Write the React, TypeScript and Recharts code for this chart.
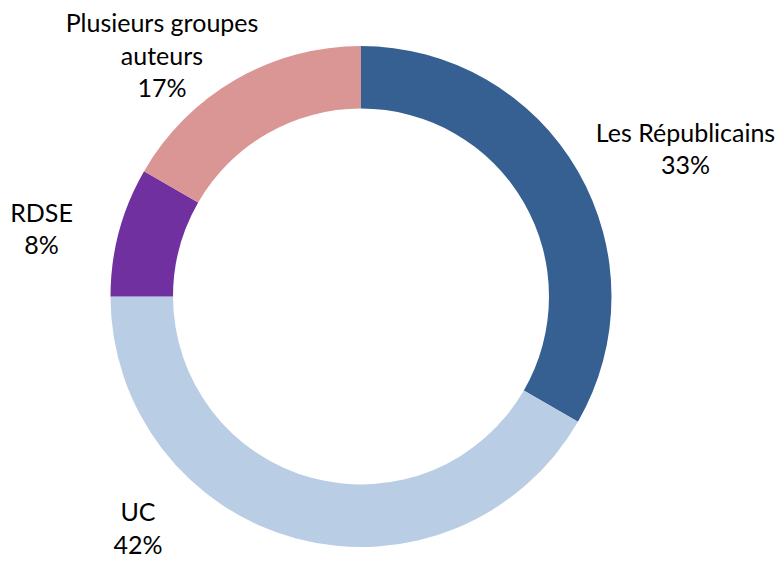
import React from 'react';
import { Cell, Pie, PieChart } from 'recharts';

const groups = ['Les Républicains', 'UC', 'RDSE', 'Plusieurs groupes\nauteurs'];
const counts = [4, 5, 1, 2];
const colors = ['#366092', '#B9CDE5', '#7030A0', '#D99694'];

// label placement relative to the pie centre (first line baseline)
const labelOffsets = [
  { dx: 324.5, dy: -155 },
  { dx: -223, dy: 224.5 },
  { dx: -319.5, dy: -75 },
  { dx: -199, dy: -264.5 },
];

const data = groups.map((name, i) => ({ name, value: counts[i] }));
const total = counts.reduce((a, b) => a + b, 0);

const LINE = 32.7;

function renderLabel(props: any) {
  const { cx, cy, index, value } = props;
  const off = labelOffsets[index];
  const lines = [...groups[index].split('\n'), `${Math.round((value / total) * 100)}%`];
  return (
    <text
      x={cx + off.dx}
      y={cy + off.dy}
      textAnchor="middle"
      fill="#000"
      fontSize={25}
      fontFamily="Lato, 'Open Sans', sans-serif"
    >
      {lines.map((l, k) => (
        <tspan key={k} x={cx + off.dx} dy={k === 0 ? 0 : LINE}>
          {l}
        </tspan>
      ))}
    </text>
  );
}

export default function App() {
  return (
    <div style={{ position: 'absolute', top: 0, left: 0, width: 779, height: 561, background: '#fff' }}>
      <PieChart width={779} height={561} margin={{ top: 0, right: 0, bottom: 0, left: 0 }}>
        <Pie
          data={data}
          dataKey="value"
          cx={361}
          cy={296.5}
          innerRadius={188}
          outerRadius={250.5}
          startAngle={90}
          endAngle={-270}
          stroke="none"
          label={renderLabel}
          labelLine={false}
          isAnimationActive={false}
        >
          {data.map((d, i) => (
            <Cell key={d.name} fill={colors[i]} />
          ))}
        </Pie>
      </PieChart>
    </div>
  );
}
